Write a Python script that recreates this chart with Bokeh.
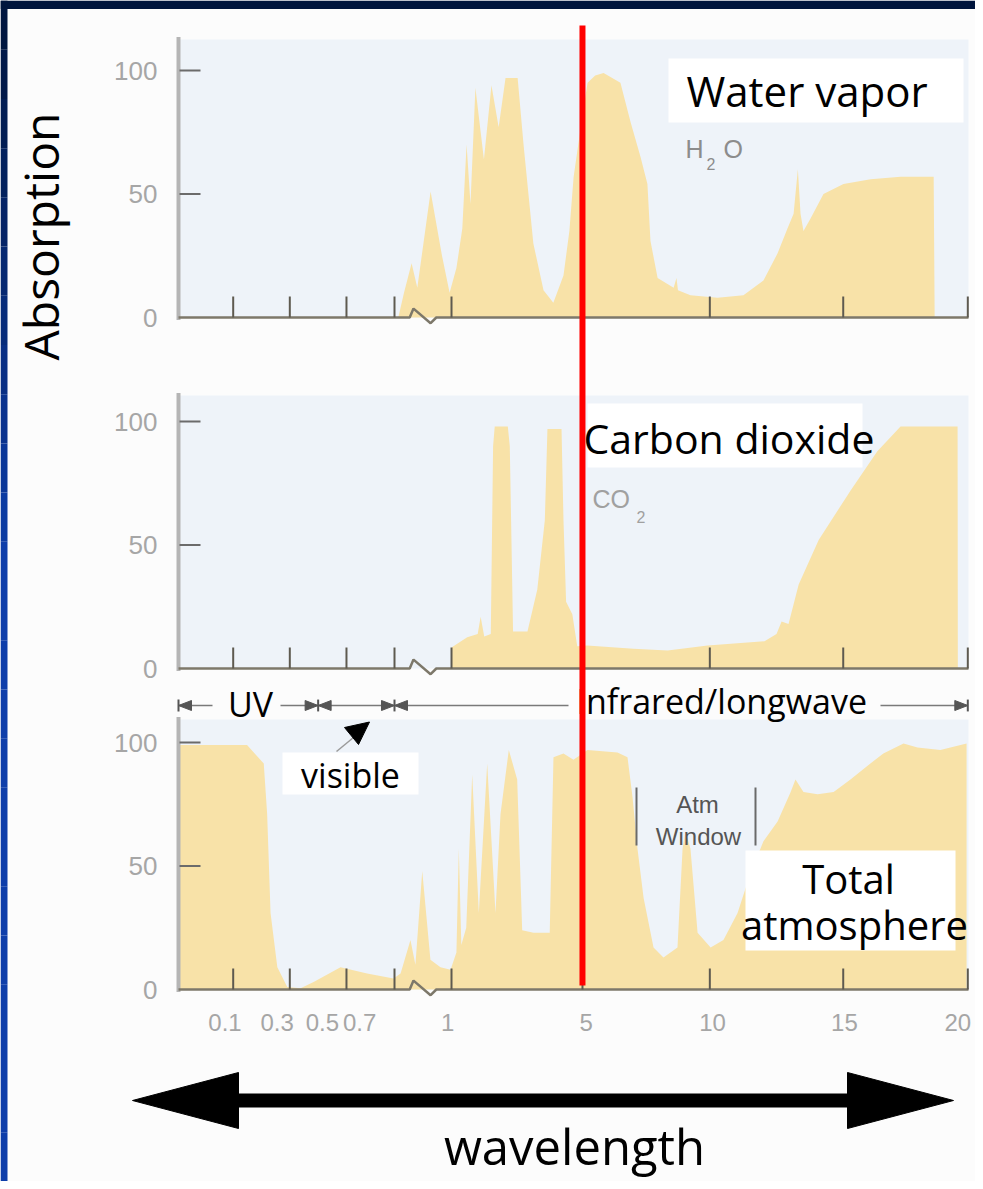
import numpy as np
from bokeh.plotting import figure
from bokeh.models import Range1d
from bokeh.core.properties import value
from bokeh.embed import file_html
from bokeh.resources import INLINE

# ---------------- data ----------------
# schematic (non-linear) wavelength axis, micrometres -> axis slot
scale_wl = [0.0, 0.1, 0.3, 0.5, 0.7, 1, 5, 10, 15, 20]
scale_pos = [0.0, 0.968, 1.970, 2.973, 3.823, 4.832, 7.150, 9.404, 11.765, 13.970]

tick_values = [0.1, 0.3, 0.5, 0.7, 1, 5, 10, 15, 20]
tick_labels = ["0.1", "0.3", "0.5", "0.7", "1", "5", "10", "15", "20"]
# where the printed labels sit along the axis (they are crowded at the short end)
tick_label_wl = [0.085, 0.255, 0.415, 0.555, 0.98, 5.15, 10.1, 15.05, 19.6]
y_ticks = [0, 50, 100]
y_tick_labels = ["0", "50", "100"]

h2o_wl = [0.72, 0.75, 0.79, 0.82, 0.89, 0.95, 0.99, 1.15, 1.33, 1.46, 1.58, 1.73, 1.99,
          2.22, 2.44, 2.65, 3.02, 3.2, 3.5, 3.81, 4.11, 4.42, 4.6, 4.73, 5.0, 5.2, 5.5,
          5.83, 6.49, 6.89, 7.28, 7.55, 7.67, 7.95, 8.58, 8.69, 8.75, 9.24, 10.29, 11.26,
          12.01, 12.54, 12.91, 13.14, 13.3, 13.4, 13.51, 13.77, 14.26, 15.01, 16.1, 17.3,
          18.63, 18.67]
h2o_abs = [0, 10, 22, 12, 51, 25, 10, 20, 36, 70, 46, 93, 64,
           94, 77, 97, 97, 70, 30, 11, 6, 17, 35, 57, 82, 95, 98,
           99, 95, 79, 65, 54, 31, 16, 12, 16, 11, 9, 8, 9,
           15, 26, 36, 42, 60, 42, 35, 40, 50, 54, 56, 57,
           57, 0]

co2_wl = [1.0, 1.01, 1.48, 1.8, 1.89, 2.0, 2.2, 2.27, 2.32, 2.72, 2.78, 2.88, 3.32, 3.62,
          3.85, 3.93, 4.36, 4.42, 4.5, 4.69, 4.84, 5.18, 7.0, 8.34, 9.91, 12.05, 12.5,
          12.69, 12.95, 13.33, 14.08, 15.29, 16.37, 17.3, 19.59, 19.6]
co2_abs = [0, 8.6, 12.7, 14, 21, 13, 14, 90, 98, 98, 90, 15, 15, 32,
           60, 97, 97, 60, 27, 22, 9, 9.3, 8, 7.3, 9.3, 11, 14,
           19, 18, 34, 52, 72, 88, 98, 98, 0]

total_wl = [0.0, 0.149, 0.208, 0.22, 0.232, 0.256, 0.291, 0.338, 0.384, 0.479, 0.586, 0.696,
            0.732, 0.784, 0.81, 0.846, 0.889, 0.942, 0.995, 1.15, 1.223, 1.3, 1.45, 1.632,
            1.834, 2.09, 2.343, 2.496, 2.75, 3.006, 3.159, 3.504, 4.0, 4.114, 4.42, 4.725,
            5.196, 6.375, 6.768, 6.964, 7.16, 7.4, 7.79, 8.18, 8.73, 8.93, 9.04, 9.24,
            9.52, 10.03, 10.51, 11.04, 11.52, 12.01, 12.54, 13.03, 13.21, 13.51, 14.04, 14.64,
            15.29, 16.09, 16.61, 17.42, 17.98, 18.9, 19.95]
total_abs = [99, 99, 91.5, 71, 31, 9, 1, 0.5, 3, 9, 6.5, 4.5,
             6.5, 20, 10, 48, 12, 9, 8, 15, 57, 18, 25, 87,
             31, 91.5, 31, 71, 97, 85, 24, 23, 23, 94, 95.5, 93,
             97, 96, 94, 78, 57, 37, 17, 13, 17, 57, 64, 57,
             23, 17, 20, 31, 47, 60, 68, 80, 85, 80, 79, 80,
             85, 91.5, 95.5, 99.6, 98, 97, 99.6]

# spectral bands shown above the bottom panel (edges in micrometres)
band_edges = [0.0, 0.4, 0.7, 20.0]
# axis-break (zigzag) between 0.7 and 1 micrometre
break_wl = [0.78, 0.80, 0.89, 0.92]
break_dy = [0, 3.6, -2.3, 0]

# ---------------- layout helpers ----------------
K = 56.5      # px per axis slot
X0 = 178.0    # px of the axis origin
YB = 989.0    # px of bottom panel baseline
S = 2.47      # px per absorption unit
W, H = 975, 1181


def X(px):
    return (px - X0) / K


def Y(py):
    return (YB - py) / S


def M(baseline_px, size):
    # vertical middle of a text line whose alphabetic baseline sits at baseline_px
    return Y(baseline_px - 0.36 * size)


def wx(w):
    return np.interp(np.asarray(w, dtype=float), scale_wl, scale_pos)


FILL = "#f8e2a8"
PANEL_BG = "#eef3f9"
PAGE_BG = "#fcfcfc"
LABEL_GRAY = "#a6a6a6"
OPEN = value("Open Sans")
LIB = value("Liberation Sans")

p = figure(width=W, height=H, output_backend="svg", toolbar_location=None,
           x_range=Range1d(X(0), X(W)), y_range=Range1d(Y(H), Y(0)),
           x_axis_location=None, y_axis_location=None, min_border=0,
           background_fill_color=PAGE_BG, border_fill_color=PAGE_BG,
           outline_line_color=None)
p.grid.visible = False

# slide frame: navy strip on top, blue strip on the left
n = 24
edges = np.linspace(0, H, n + 1)
c0 = np.array([0, 22, 64]); c1 = np.array([14, 62, 170])
cols = ["#%02x%02x%02x" % tuple((c0 + (c1 - c0) * min(1.0, i / (n * 0.45))).astype(int)) for i in range(n)]
p.quad(left=[X(0)] * n, right=[X(7)] * n, top=[Y(e) for e in edges[:-1]],
       bottom=[Y(e) for e in edges[1:]], fill_color=cols, line_color=None)
p.quad(left=[X(0)], right=[X(W)], top=[Y(0)], bottom=[Y(8.5)], fill_color="#00153d", line_color=None)

panels = [
    (h2o_wl, h2o_abs, Y(317), (317 - 39) / S),
    (co2_wl, co2_abs, Y(668), (668 - 395) / S),
    (total_wl, total_abs, Y(989), (989 - 719) / S),
]

for wl, ab, base, top in panels:
    # panel background
    p.quad(left=X(179), right=X(968), bottom=base, top=base + top,
           fill_color=PANEL_BG, line_color=None)
    # absorption area
    p.varea(x=wx(wl), y1=np.full(len(wl), base), y2=base + np.asarray(ab, dtype=float),
            fill_color=FILL, fill_alpha=1.0)
    # y axis line
    p.segment(x0=[X(178)], y0=[base - 1], x1=[X(178)], y1=[base + top + 1],
              line_color="#b5b5b5", line_width=4)
    # y ticks
    yt = np.asarray(y_ticks[1:], dtype=float)
    p.segment(x0=np.full(len(yt), X(179)), y0=base + yt,
              x1=np.full(len(yt), X(200)), y1=base + yt,
              line_color="#6b6b6b", line_width=2)
    p.text(x=np.full(len(y_ticks), X(157)), y=base + np.asarray(y_ticks, dtype=float),
           text=y_tick_labels, text_align="right", text_baseline="middle",
           text_font=LIB, text_font_size=value("26px"), text_color=LABEL_GRAY)
    # x baseline with axis break
    bx = np.concatenate([[X(178)], wx(break_wl), [X(968)]])
    by = np.concatenate([[base], base + np.asarray(break_dy, dtype=float), [base]])
    p.line(bx, by, line_color="#7d786a", line_width=2.5)
    # x ticks
    tx = wx(tick_values)
    p.segment(x0=tx, y0=np.full(len(tx), base), x1=tx, y1=np.full(len(tx), base + 8.5),
              line_color="#5e5a50", line_width=2)

# ---- panel 1 labels ----
p.quad(left=X(668), right=X(963), bottom=Y(122), top=Y(58), fill_color="white", line_color=None)
p.text(x=[X(686)], y=[M(105, 42)], text=["Water vapor"], text_font=OPEN,
       text_font_size=value("42px"), text_color="black", text_baseline="middle")
p.text(x=[X(685), X(723)], y=[M(157, 25)] * 2, text=["H", "O"], text_font=LIB,
       text_font_size=value("25px"), text_color="#8c8c8c", text_baseline="middle")
p.text(x=[X(706)], y=[M(169, 16)], text=["2"], text_font=LIB,
       text_font_size=value("16px"), text_color="#8c8c8c", text_baseline="middle")

# ---- panel 2 labels ----
p.quad(left=X(587), right=X(862), bottom=Y(467), top=Y(403), fill_color="white", line_color=None)
p.text(x=[X(583)], y=[M(452, 41)], text=["Carbon dioxide"], text_font=OPEN,
       text_font_size=value("41px"), text_color="black", text_baseline="middle")
p.text(x=[X(592)], y=[M(507, 25)], text=["CO"], text_font=LIB,
       text_font_size=value("25px"), text_color="#a0a0a0", text_baseline="middle")
p.text(x=[X(636)], y=[M(522, 16)], text=["2"], text_font=LIB,
       text_font_size=value("16px"), text_color="#a0a0a0", text_baseline="middle")

# ---- band indicator row above bottom panel ----
ry = Y(705)
ex = wx(band_edges)
seg_x0 = [ex[0], X(280), ex[1], ex[2], X(880)]
seg_x1 = [X(212), ex[1], ex[2], X(568), ex[3]]
p.segment(x0=seg_x0, y0=[ry] * 5, x1=seg_x1, y1=[ry] * 5, line_color="#7a7a7a", line_width=1.5)
dx = 13 / K
dy = 5 / S
tri_xs, tri_ys = [], []
tri_xs.append([ex[0], ex[0] + dx, ex[0] + dx]); tri_ys.append([ry, ry + dy, ry - dy])
for e in ex[1:3]:
    tri_xs.append([e, e - dx, e - dx]); tri_ys.append([ry, ry + dy, ry - dy])
    tri_xs.append([e, e + dx, e + dx]); tri_ys.append([ry, ry + dy, ry - dy])
tri_xs.append([ex[3], ex[3] - dx, ex[3] - dx]); tri_ys.append([ry, ry + dy, ry - dy])
p.patches(tri_xs, tri_ys, fill_color="#555555", line_color="#555555")
p.segment(x0=ex, y0=[ry - 2.4] * 4, x1=ex, y1=[ry + 2.4] * 4, line_color="#555555", line_width=2)

p.text(x=[X(250)], y=[M(716, 34)], text=["UV"], text_font=OPEN, text_font_size=value("34px"),
       text_color="black", text_align="center", text_baseline="middle")
p.text(x=[X(576)], y=[M(713, 34)], text=["Infrared/longwave"], text_font=OPEN,
       text_font_size=value("34px"), text_color="black", text_baseline="middle")

# visible label with pointer
p.quad(left=X(282), right=X(418), bottom=Y(794), top=Y(752), fill_color="white", line_color=None)
p.text(x=[X(350)], y=[M(787, 34)], text=["visible"], text_font=OPEN, text_font_size=value("34px"),
       text_color="black", text_align="center", text_baseline="middle")
p.segment(x0=[X(336)], y0=[Y(751)], x1=[X(353)], y1=[Y(737)], line_color="#9a9a9a", line_width=1.5)
p.patch([X(344), X(369), X(358)], [Y(727), Y(721.5), Y(744)], fill_color="black", line_color="black")

# atmospheric window
p.segment(x0=[X(636), X(755)], y0=[Y(787), Y(787)], x1=[X(636), X(755)], y1=[Y(845), Y(845)],
          line_color="#6a6a6a", line_width=2)
p.text(x=[X(697), X(698)], y=[M(813, 24), M(845, 24)], text=["Atm", "Window"], text_font=LIB,
       text_font_size=value("24px"), text_color="#555555", text_align="center",
       text_baseline="middle")

# total atmosphere label
p.quad(left=X(745), right=X(955), bottom=Y(950), top=Y(850), fill_color="white", line_color=None)
p.text(x=[X(848), X(854)], y=[M(892, 40), M(938, 40)], text=["Total", "atmosphere"], text_font=OPEN,
       text_font_size=value("40px"), text_color="black", text_align="center",
       text_baseline="middle")

# bottom tick labels
p.text(x=wx(tick_label_wl), y=np.full(len(tick_label_wl), Y(1022)), text=tick_labels,
       text_font=LIB, text_font_size=value("24px"), text_color=LABEL_GRAY,
       text_align="center", text_baseline="middle")

# y title
p.text(x=[X(40)], y=[Y(236)], text=["Absorption"], angle=np.pi / 2, text_font=OPEN,
       text_font_size=value("48px"), text_color="black", text_align="center",
       text_baseline="middle")

# wavelength double arrow
p.segment(x0=[X(230)], y0=[Y(1100)], x1=[X(855)], y1=[Y(1100)], line_color="black", line_width=14)
p.patches([[X(132), X(238), X(238)], [X(953), X(847), X(847)]],
          [[Y(1100), Y(1072), Y(1128)], [Y(1100), Y(1072), Y(1128)]],
          fill_color="black", line_color="black")
p.text(x=[X(574)], y=[M(1163, 49)], text=["wavelength"], text_font=OPEN,
       text_font_size=value("49px"), text_color="black", text_align="center",
       text_baseline="middle")

# red marker line at 5 micrometres
p.segment(x0=[wx(5)], y0=[Y(985)], x1=[wx(5)], y1=[Y(25)], line_color="#ff0000", line_width=6)

open("out.html", "w").write(file_html(p, INLINE))
